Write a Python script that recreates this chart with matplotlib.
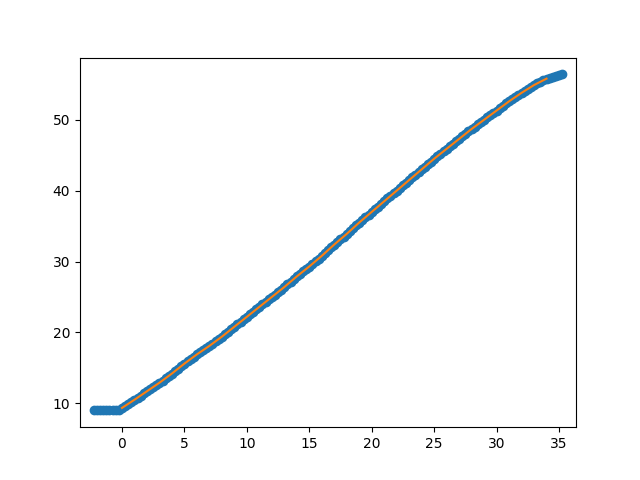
import matplotlib
matplotlib.use("Agg")
import matplotlib.pyplot as plt

# scatter points (x step 0.25)
pts_x = [-2.25, -2.0, -1.75, -1.5, -1.25, -1.0, -0.75, -0.5, -0.25,
         0.0, 0.25, 0.5, 0.75, 1.0, 1.25, 1.5, 1.75, 2.0, 2.25, 2.5, 2.75,
         3.0, 3.25, 3.5, 3.75, 4.0, 4.25, 4.5, 4.75, 5.0, 5.25, 5.5, 5.75,
         6.0, 6.25, 6.5, 6.75, 7.0, 7.25, 7.5, 7.75, 8.0, 8.25, 8.5, 8.75,
         9.0, 9.25, 9.5, 9.75, 10.0, 10.25, 10.5, 10.75, 11.0, 11.25, 11.5, 11.75,
         12.0, 12.25, 12.5, 12.75, 13.0, 13.25, 13.5, 13.75, 14.0, 14.25, 14.5, 14.75,
         15.0, 15.25, 15.5, 15.75, 16.0, 16.25, 16.5, 16.75, 17.0, 17.25, 17.5, 17.75,
         18.0, 18.25, 18.5, 18.75, 19.0, 19.25, 19.5, 19.75, 20.0, 20.25, 20.5, 20.75,
         21.0, 21.25, 21.5, 21.75, 22.0, 22.25, 22.5, 22.75, 23.0, 23.25, 23.5, 23.75,
         24.0, 24.25, 24.5, 24.75, 25.0, 25.25, 25.5, 25.75, 26.0, 26.25, 26.5, 26.75,
         27.0, 27.25, 27.5, 27.75, 28.0, 28.25, 28.5, 28.75, 29.0, 29.25, 29.5, 29.75,
         30.0, 30.25, 30.5, 30.75, 31.0, 31.25, 31.5, 31.75, 32.0, 32.25, 32.5, 32.75,
         33.0, 33.25, 33.5, 33.75, 34.0, 34.25, 34.5, 34.75, 35.0, 35.25]
pts_y = [9.0, 9.0, 9.0, 9.0, 9.0, 9.0, 9.0, 9.02, 9.1,
         9.35, 9.63, 9.9, 10.2, 10.5, 10.8, 11.1, 11.4, 11.7, 12.0, 12.3, 12.6,
         12.9, 13.2, 13.55, 13.85, 14.2, 14.55, 14.9, 15.25, 15.6, 15.9, 16.25, 16.6,
         16.9, 17.2, 17.5, 17.8, 18.1, 18.4, 18.75, 19.1, 19.4, 19.75, 20.1, 20.45,
         20.8, 21.15, 21.5, 21.85, 22.2, 22.55, 22.9, 23.25, 23.6, 23.95, 24.3, 24.65,
         25.0, 25.35, 25.7, 26.05, 26.4, 26.8, 27.15, 27.5, 27.9, 28.25, 28.6, 28.95,
         29.3, 29.7, 30.05, 30.4, 30.8, 31.2, 31.6, 32.0, 32.4, 32.8, 33.15, 33.5,
         33.9, 34.3, 34.7, 35.1, 35.5, 35.9, 36.25, 36.6, 37.0, 37.4, 37.75, 38.1,
         38.5, 38.9, 39.25, 39.6, 40.0, 40.4, 40.75, 41.1, 41.5, 41.9, 42.25, 42.6,
         43.0, 43.4, 43.75, 44.1, 44.5, 44.85, 45.2, 45.55, 45.9, 46.25, 46.6, 46.95,
         47.3, 47.65, 48.0, 48.35, 48.7, 49.0, 49.35, 49.7, 50.0, 50.35, 50.65, 51.0,
         51.3, 51.65, 51.95, 52.3, 52.6, 52.9, 53.2, 53.5, 53.8, 54.1, 54.35, 54.65,
         54.9, 55.15, 55.35, 55.6, 55.8, 55.95, 56.05, 56.2, 56.3, 56.4]

# fitted line
fit_x = [0, 1, 2, 3, 4, 5, 6, 7, 8, 9, 10, 11, 12, 13, 14, 15, 16, 17,
         18, 19, 20, 21, 22, 23, 24, 25, 26, 27, 28, 29, 30, 31, 32, 33, 34]
fit_y = [9.35, 10.5, 11.7, 12.9, 14.2, 15.6, 16.9, 18.1, 19.4, 20.8, 22.2,
         23.6, 25.0, 26.4, 27.9, 29.3, 30.8, 32.4, 33.9, 35.5, 37.0, 38.5,
         40.0, 41.5, 43.0, 44.5, 45.9, 47.3, 48.7, 50.0, 51.3, 52.6, 53.8,
         54.9, 55.8]

fig, ax = plt.subplots(figsize=(6.4, 4.8), dpi=100)
ax.scatter(pts_x, pts_y, color="#1f77b4")
ax.plot(fit_x, fit_y, color="#ff7f0e")
ax.set_xlim(-3.36, 36.36)
fig.savefig("out.png")
